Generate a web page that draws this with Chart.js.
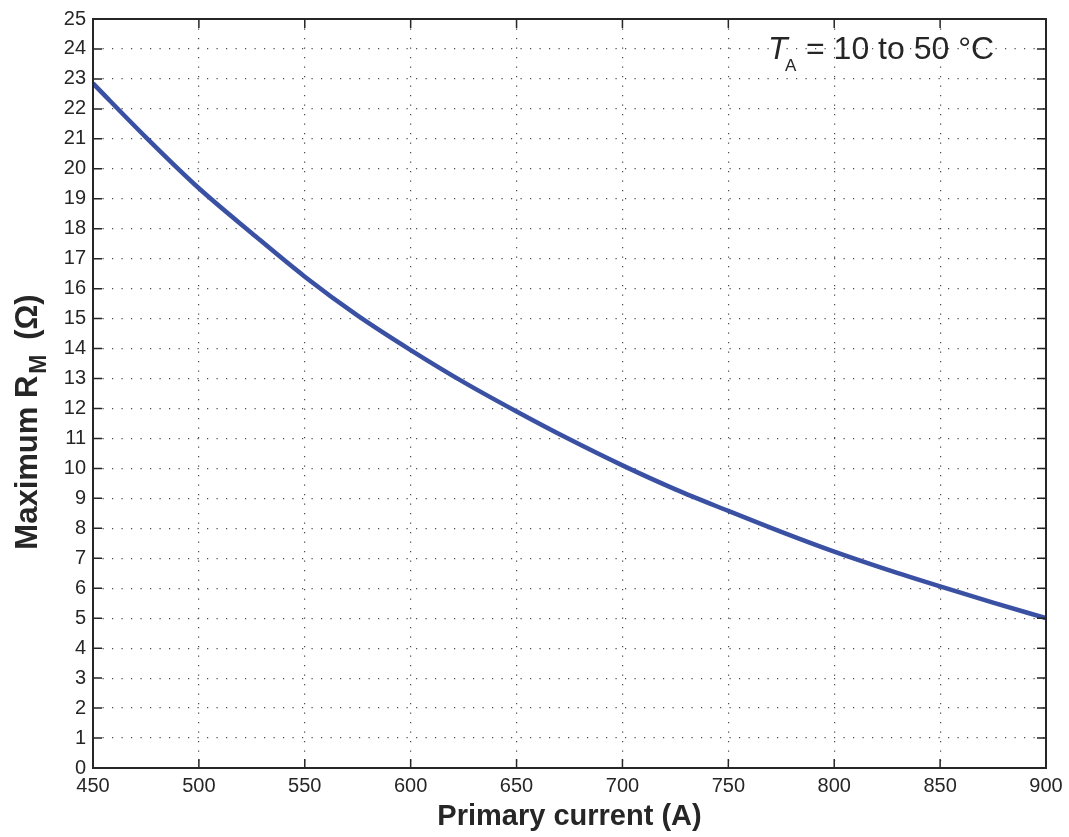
<!DOCTYPE html>
<html>
<head>
<meta charset="utf-8">
<script src="https://cdn.jsdelivr.net/npm/chart.js@4/dist/chart.umd.min.js"></script>
<style>
  body { margin: 0; background: #fff; }
  #wrap { position: relative; width: 1069px; height: 837px; }
</style>
</head>
<body>
<div id="wrap"><canvas id="rmChart"></canvas></div>
<script>
const corriente = [450, 475, 500, 525, 550, 575, 600, 625, 650, 675, 700, 725, 750, 775, 800, 825, 850, 875, 900];
const rmMax = [22.85, 21.05, 19.35, 17.85, 16.4, 15.1, 13.95, 12.88, 11.9, 10.97, 10.1, 9.3, 8.58, 7.88, 7.22, 6.62, 6.06, 5.52, 5.0];

const xTicks = [450, 500, 550, 600, 650, 700, 750, 800, 850, 900];
const yTicks = [0, 1, 2, 3, 4, 5, 6, 7, 8, 9, 10, 11, 12, 13, 14, 15, 16, 17, 18, 19, 20, 21, 22, 23, 24, 25];

const fuente = '"Liberation Sans", Arial, Helvetica, sans-serif';
const negro = "#262626";

// marco, marcas hacia dentro y textos con subindices
const marcoPlugin = {
  id: "marco",
  afterDraw(chart) {
    const { ctx, chartArea: a, scales } = chart;
    ctx.save();
    ctx.strokeStyle = negro;
    ctx.lineWidth = 1.5;
    ctx.beginPath();
    xTicks.forEach((v) => {
      const px = scales.x.getPixelForValue(v);
      ctx.moveTo(px, a.bottom);
      ctx.lineTo(px, a.bottom - 9);
      ctx.moveTo(px, a.top);
      ctx.lineTo(px, a.top + 9);
    });
    yTicks.forEach((v) => {
      const py = scales.y.getPixelForValue(v);
      ctx.moveTo(a.left, py);
      ctx.lineTo(a.left + 9, py);
      ctx.moveTo(a.right, py);
      ctx.lineTo(a.right - 9, py);
    });
    ctx.stroke();
    ctx.lineWidth = 2;
    ctx.strokeRect(a.left, a.top, a.right - a.left, a.bottom - a.top);

    ctx.fillStyle = negro;
    ctx.textBaseline = "alphabetic";

    // titulo eje x
    ctx.font = "bold 29px " + fuente;
    ctx.textAlign = "center";
    ctx.fillText("Primary current (A)", (a.left + a.right) / 2, 825);

    // titulo eje y (rotado)
    ctx.save();
    ctx.translate(37, 422);
    ctx.rotate(-Math.PI / 2);
    ctx.textAlign = "left";
    const t1 = "Maximum R";
    const t2 = "M";
    const t3 = " (Ω)";
    ctx.font = "bold 31px " + fuente;
    const w1 = ctx.measureText(t1).width;
    const w3 = ctx.measureText(t3).width;
    ctx.font = "bold 23px " + fuente;
    const w2 = ctx.measureText(t2).width;
    let x0 = -(w1 + w2 + w3 + 8) / 2;
    ctx.font = "bold 31px " + fuente;
    ctx.fillText(t1, x0, 0);
    ctx.font = "bold 23px " + fuente;
    ctx.fillText(t2, x0 + w1 + 2, 9);
    ctx.font = "bold 31px " + fuente;
    ctx.fillText(t3, x0 + w1 + w2 + 8, 0);
    ctx.restore();

    // anotacion de temperatura
    ctx.textAlign = "left";
    ctx.font = "italic 32px " + fuente;
    ctx.fillText("T", 768, 59);
    ctx.font = "17px " + fuente;
    ctx.fillText("A", 785, 71);
    ctx.font = "32px " + fuente;
    ctx.fillText("= 10 to 50 °C", 806, 59);
    ctx.restore();
  },
};

const ctx = document.getElementById("rmChart").getContext("2d");

new Chart(ctx, {
  type: "line",
  data: {
    datasets: [
      {
        data: corriente.map((c, i) => ({ x: c, y: rmMax[i] })),
        borderColor: "#3a51a3",
        borderWidth: 4.5,
        pointRadius: 0,
        cubicInterpolationMode: "monotone",
        fill: false,
      },
    ],
  },
  options: {
    responsive: true,
    maintainAspectRatio: false,
    animation: false,
    layout: {
      padding: { left: 0, right: 23, top: 16, bottom: 0 },
    },
    plugins: {
      legend: { display: false },
      tooltip: { enabled: false },
    },
    scales: {
      x: {
        type: "linear",
        min: 450,
        max: 900,
        afterBuildTicks: (scale) => {
          scale.ticks = xTicks.map((v) => ({ value: v }));
        },
        afterFit: (scale) => {
          scale.height = 69;
        },
        border: { display: false, dash: [1.2, 8.3] },
        grid: {
          color: "#4a4a4a",
          lineWidth: 1.2,
          drawTicks: false,
        },
        ticks: {
          color: negro,
          font: { family: fuente, size: 20 },
          padding: 6,
          maxRotation: 0,
        },
      },
      y: {
        type: "linear",
        min: 0,
        max: 25,
        afterBuildTicks: (scale) => {
          scale.ticks = yTicks.map((v) => ({ value: v }));
        },
        afterFit: (scale) => {
          scale.width = 93;
        },
        border: { display: false, dash: [1.2, 8.3] },
        grid: {
          color: "#4a4a4a",
          lineWidth: 1.2,
          drawTicks: false,
        },
        ticks: {
          color: negro,
          font: { family: fuente, size: 20 },
          padding: 7,
        },
      },
    },
  },
  plugins: [marcoPlugin],
});
</script>
</body>
</html>
